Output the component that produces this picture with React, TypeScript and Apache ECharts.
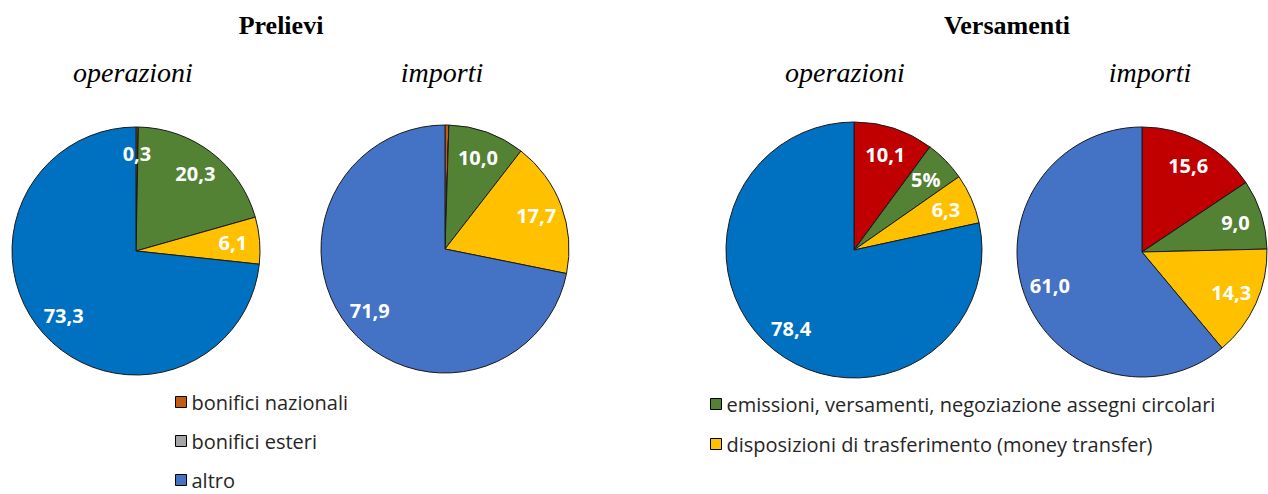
import React, { useEffect, useRef } from "react";
import * as echarts from "echarts";

const categories = [
  "bonifici nazionali",
  "bonifici esteri",
  "emissioni, versamenti, negoziazione assegni circolari",
  "disposizioni di trasferimento (money transfer)",
  "altro",
];

// values in order of categories
const prelieviOperazioni = [0.3, 0, 20.3, 6.1, 73.3];
const prelieviImporti = [0.5, 0, 10.0, 17.7, 71.9];
const versamentiOperazioni = [10.1, 0, 5.2, 6.3, 78.4];
const versamentiImporti = [15.6, 0, 9.0, 14.3, 61.0];

// label shown on the small green slice of Versamenti / operazioni
const versamentiOperazioniGreenLabel = "5%";

const titles = ["Prelievi", "Versamenti"];
const subtitles = ["operazioni", "importi"];

const leftLegend = ["bonifici nazionali", "bonifici esteri", "altro"];
const rightLegend = [
  "emissioni, versamenti, negoziazione assegni circolari",
  "disposizioni di trasferimento (money transfer)",
];

const COLORS = {
  orange: "#C55A11",
  gray: "#A5A5A5",
  green: "#548235",
  yellow: "#FFC000",
  blueDark: "#0070C0",
  blue: "#4472C4",
  red: "#C00000",
};

const fmt = (v: number) => v.toFixed(1).replace(".", ",");

function pieSeries(
  center: [number, number],
  r: number,
  values: number[],
  colors: string[],
  override?: Record<number, string>
) {
  const data = values.map((v, i) => ({
    name: categories[i],
    value: v,
    itemStyle: { color: colors[i] },
  }));
  const base = {
    type: "pie",
    center,
    startAngle: 90,
    clockwise: true,
    animation: false,
    silent: true,
    emphasis: { disabled: true },
  };
  return [
    {
      ...base,
      radius: [0, r],
      data,
      label: { show: false },
      labelLine: { show: false },
      itemStyle: { borderColor: "#1a1a1a", borderWidth: 1 },
    },
    {
      ...base,
      radius: [r * 0.52, r],
      data: values.map((v, i) => ({
        name: categories[i],
        value: v,
        itemStyle: { color: "rgba(0,0,0,0)", borderWidth: 0 },
      })),
      labelLine: { show: false },
      label: {
        show: true,
        position: "inside",
        color: "#ffffff",
        fontFamily: "Open Sans",
        fontWeight: "bold",
        fontSize: 20,
        formatter: (p: any) => {
          if (!p.value) return "";
          if (override && override[p.dataIndex] !== undefined) return override[p.dataIndex];
          return fmt(p.value);
        },
      },
    },
  ];
}

export default function App() {
  const ref = useRef<HTMLDivElement>(null);
  useEffect(() => {
    if (!ref.current) return;
    const chart = echarts.init(ref.current, undefined, { renderer: "svg" });
    const prelColorsOp = [COLORS.orange, COLORS.gray, COLORS.green, COLORS.yellow, COLORS.blueDark];
    const prelColorsImp = [COLORS.orange, COLORS.gray, COLORS.green, COLORS.yellow, COLORS.blue];
    const versColorsOp = [COLORS.red, COLORS.gray, COLORS.green, COLORS.yellow, COLORS.blueDark];
    const versColorsImp = [COLORS.red, COLORS.gray, COLORS.green, COLORS.yellow, COLORS.blue];
    const legendColor: Record<string, string> = {
      "bonifici nazionali": COLORS.orange,
      "bonifici esteri": COLORS.gray,
      altro: COLORS.blue,
      "emissioni, versamenti, negoziazione assegni circolari": COLORS.green,
      "disposizioni di trasferimento (money transfer)": COLORS.yellow,
    };
    const legendBase = {
      orient: "vertical",
      itemWidth: 11,
      itemHeight: 11,
      itemGap: 19,
      padding: 0,
      height: 140,
      icon: "rect",
      selectedMode: false,
      textStyle: { fontFamily: "Open Sans", fontSize: 20, color: "#262626" },
      itemStyle: { borderColor: "#000", borderWidth: 1 },
    };
    const serif = "Liberation Serif";
    const text = (t: string, x: number, y: number, size: number, bold: boolean, italic: boolean) => ({
      type: "text",
      x,
      y,
      style: {
        text: t,
        fontFamily: serif,
        fontSize: size,
        fontWeight: bold ? "bold" : "normal",
        fontStyle: italic ? "italic" : "normal",
        fill: "#000",
        align: "center",
        verticalAlign: "middle",
      },
    });
    chart.setOption({
      animation: false,
      backgroundColor: "#ffffff",
      graphic: [
        text(titles[0], 281, 25, 26, true, false),
        text(titles[1], 1007, 25, 26, true, false),
        text(subtitles[0], 133, 72, 28, false, true),
        text(subtitles[1], 442, 72, 28, false, true),
        text(subtitles[0], 845, 72, 28, false, true),
        text(subtitles[1], 1150, 72, 28, false, true),
      ],
      legend: [
        {
          ...legendBase,
          left: 175,
          top: 392,
          data: leftLegend.map((n) => ({ name: n, itemStyle: { color: legendColor[n] } })),
        },
        {
          ...legendBase,
          left: 710,
          top: 394,
          itemGap: 20,
          data: rightLegend.map((n) => ({ name: n, itemStyle: { color: legendColor[n] } })),
        },
      ],
      series: [
        ...pieSeries([136, 251], 124, prelieviOperazioni, prelColorsOp),
        ...pieSeries([445, 249], 124, prelieviImporti, prelColorsImp),
        ...pieSeries([854, 250], 128, versamentiOperazioni, versColorsOp, {
          2: versamentiOperazioniGreenLabel,
        }),
        ...pieSeries([1142, 252], 125, versamentiImporti, versColorsImp),
      ],
    });
    return () => chart.dispose();
  }, []);
  return (
    <div
      ref={ref}
      style={{ position: "absolute", left: 0, top: 0, width: 1268, height: 494 }}
    />
  );
}
